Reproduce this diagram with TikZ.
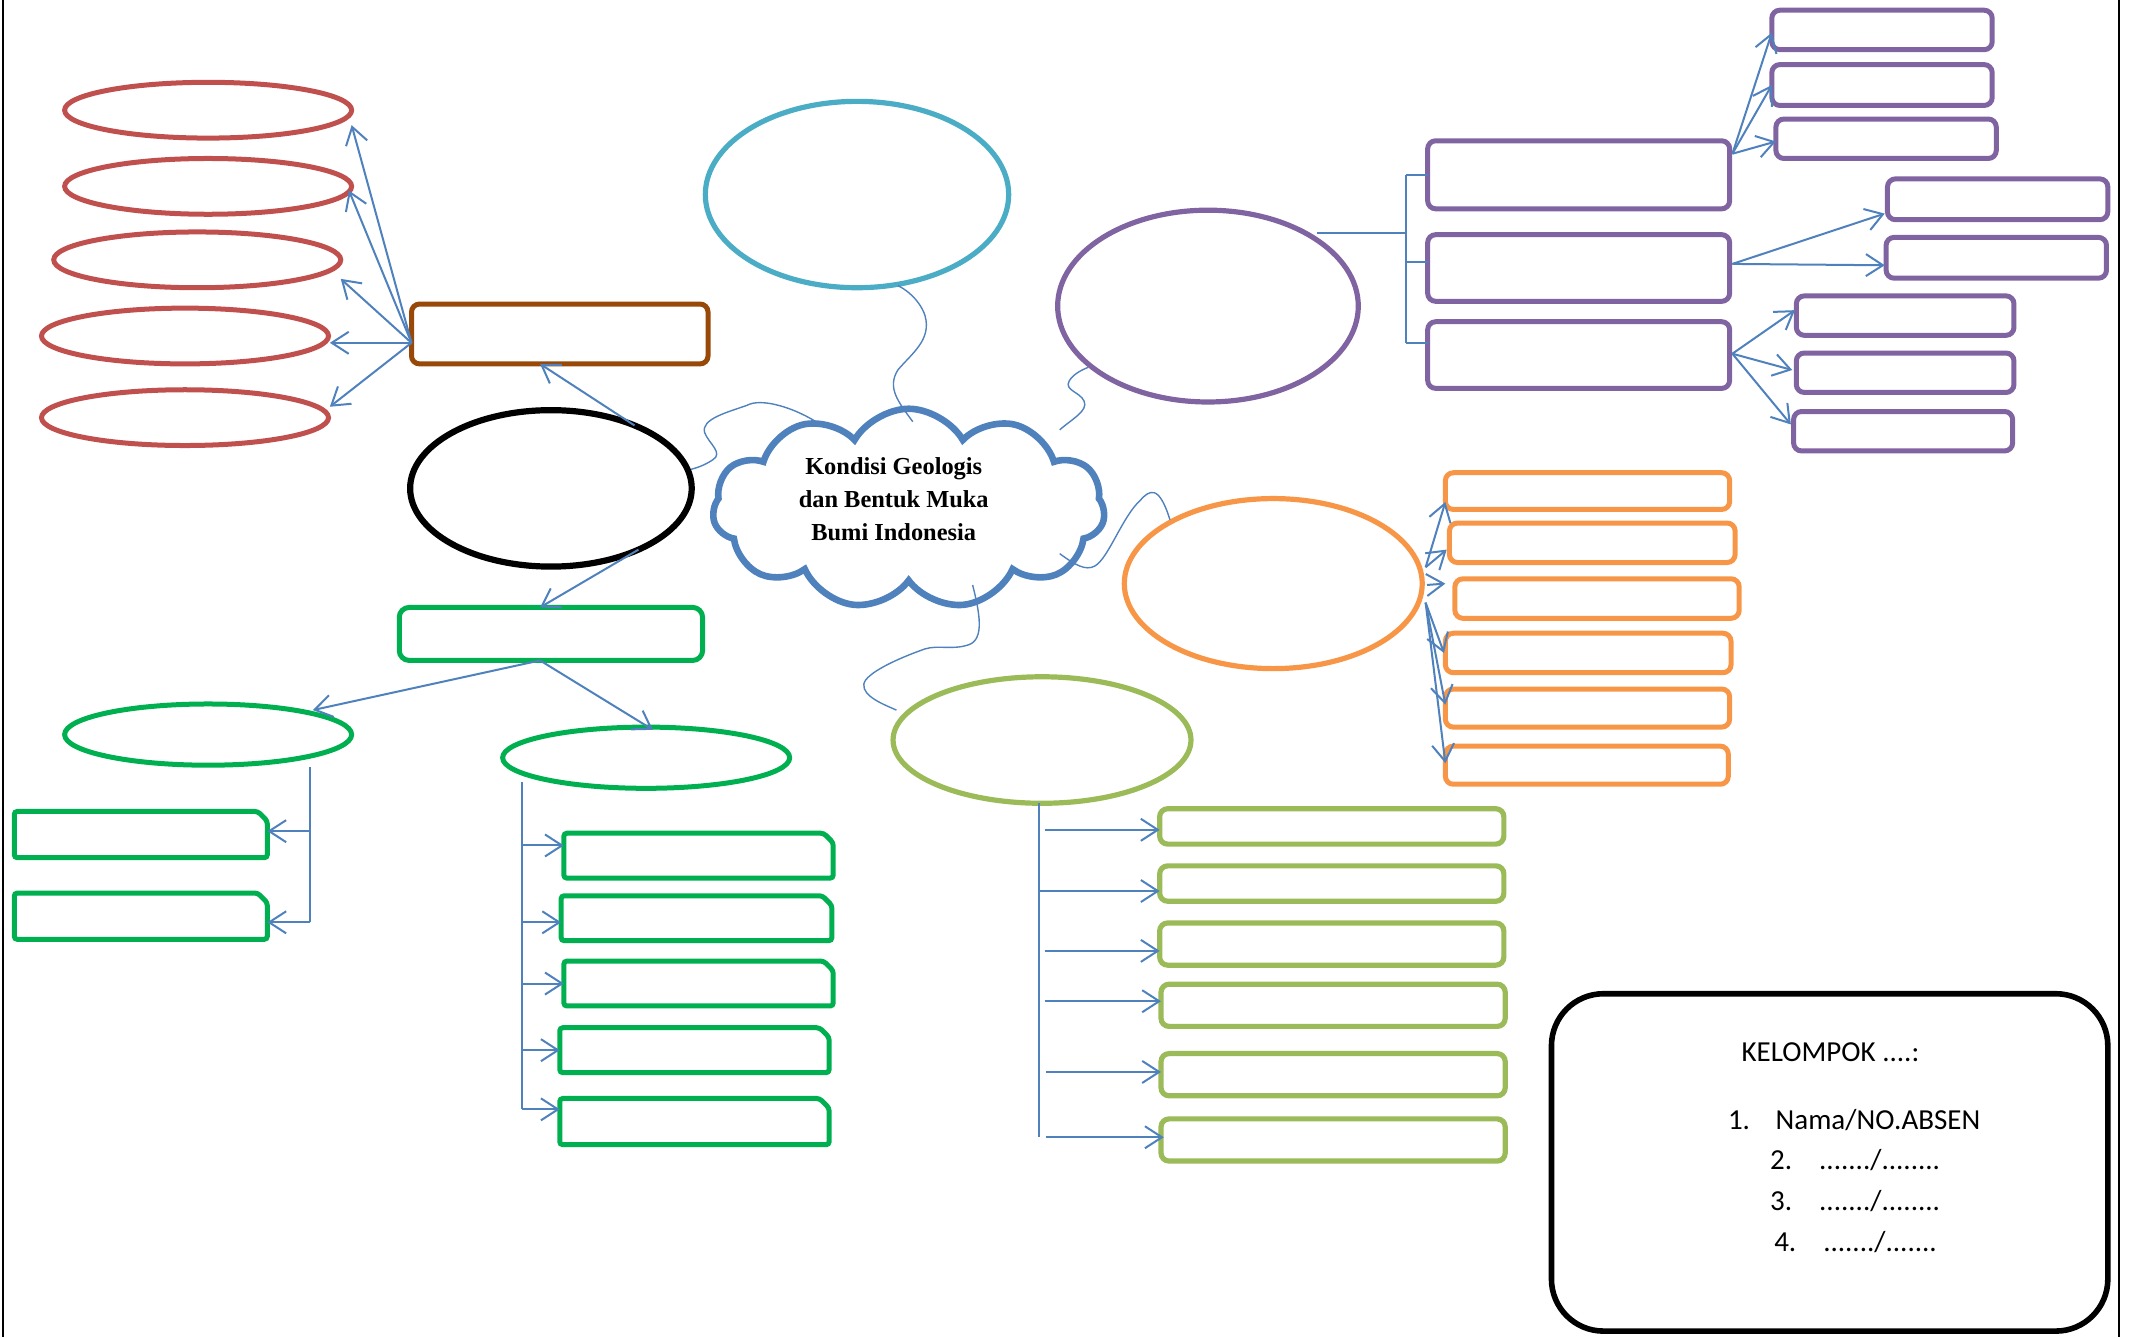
\documentclass[tikz,border=0pt]{standalone}
\usepackage{fontspec}
\setmainfont{Liberation Serif}
\newfontfamily\calib{Carlito}
\usetikzlibrary{shapes.geometric,shapes.symbols,arrows.meta,calc}
\definecolor{myred}{HTML}{C0504D}
\definecolor{mybrown}{HTML}{984807}
\definecolor{mygreen}{HTML}{00B050}
\definecolor{mylgreen}{HTML}{9BBB59}
\definecolor{mypurple}{HTML}{8064A2}
\definecolor{myorange}{HTML}{F79646}
\definecolor{mycyan}{HTML}{4BACC6}
\definecolor{myblue}{HTML}{4F81BD}
\newcommand\bx[6]{\pgfmathsetmacro\mybw{(#5-#3-3)*0.68}\pgfmathsetmacro\mybh{(#6-#4-3)*0.68}%
  \node[#2, minimum width=\mybw pt, minimum height=\mybh pt] (#1) at ({(#3+#5)/2},{(#4+#6)/2}) {};}
\newcommand\el[6]{\pgfmathsetmacro\mybw{(2*#5-3)*0.68}\pgfmathsetmacro\mybh{(2*#6-3)*0.68}%
  \node[#2, ellipse, minimum width=\mybw pt, minimum height=\mybh pt] (#1) at (#3,#4) {};}
% box with one snipped corner (north east)
\newcommand\snip[5]{\bx{#1}{shp}{#2}{#3}{#4}{#5}%
  \draw[snipline] (#1.south west) -- (#1.north west) -- ($(#1.north east)+(-7,0)$)
     -- ($(#1.north east)+(0,7)$) -- (#1.south east) -- cycle;}
\tikzset{
  shp/.style={inner sep=0pt, outer sep=0pt},
  redel/.style={shp, draw=myred, line width=2.5pt},
  blackel/.style={shp, draw=black, line width=3.1pt},
  greenel/.style={shp, draw=mygreen, line width=2.5pt},
  cyanel/.style={shp, draw=mycyan, line width=2.6pt},
  purpleel/.style={shp, draw=mypurple, line width=2.6pt},
  orangeel/.style={shp, draw=myorange, line width=2.6pt},
  lgreenel/.style={shp, draw=mylgreen, line width=2.6pt},
  brownbox/.style={shp, rectangle, draw=mybrown, line width=2.5pt, rounded corners=4pt},
  greenbox/.style={shp, rectangle, draw=mygreen, line width=2.5pt, rounded corners=5pt},
  snipline/.style={draw=mygreen, line width=2.5pt, rounded corners=1.5pt},
  purplebox/.style={shp, rectangle, draw=mypurple, line width=2.5pt, rounded corners=4pt},
  orangebox/.style={shp, rectangle, draw=myorange, line width=2.5pt, rounded corners=4pt},
  lgreenbox/.style={shp, rectangle, draw=mylgreen, line width=2.6pt, rounded corners=4pt},
  grpbox/.style={shp, rectangle, draw=black, line width=2.8pt, rounded corners=26pt},
  cloudst/.style={inner sep=0pt, outer sep=0pt, cloud, cloud puffs=11, cloud puff arc=120, cloud ignores aspect,
     draw=myblue, line width=3.3pt, minimum width=196pt, minimum height=100pt},
  cloudtext/.style={inner sep=0pt, align=center, font=\bfseries\fontsize{12.2pt}{16.3pt}\selectfont},
  grptext/.style={inner sep=0pt, anchor=base west, font=\calib\fontsize{14.5pt}{20pt}\selectfont},
  conn/.style={draw=myblue, line width=1pt},
  arr/.style={conn, -{Straight Barb[length=8.5pt,width=11pt]}},
  wavy/.style={draw=myblue, line width=0.7pt},
  frame/.style={draw=black, line width=1pt}
}
\begin{document}
\begin{tikzpicture}[x=0.68pt,y=-0.68pt]
\useasboundingbox (0,0) rectangle (1568,983);
\draw[frame] (2,0) -- (2,983);
\draw[frame] (1558,0) -- (1558,983);

% red ellipses and brown box
\el{r1}{redel}{153}{81}{107}{22}
\el{r2}{redel}{153}{137}{107}{22}
\el{r3}{redel}{145}{191}{107}{22}
\el{r4}{redel}{136}{247}{107}{22}
\el{r5}{redel}{136}{307}{107}{22}
\bx{br}{brownbox}{301}{222}{522}{269}
% black ellipse
\el{bk}{blackel}{405}{359}{105}{59}
% green branch
\bx{gb}{greenbox}{292}{445}{518}{487}
\el{ga}{greenel}{153}{540}{107}{24}
\el{gc}{greenel}{475}{557}{107}{24}
\snip{la}{9}{595}{198}{632}
\snip{lb}{9}{655}{198}{692}
\snip{m1}{413}{611}{614}{647}
\snip{m2}{411}{657}{613}{693}
\snip{m3}{413}{705}{614}{741}
\snip{m4}{410}{754}{611}{790}
\snip{m5}{410}{806}{611}{843}
% cyan
\el{cy}{cyanel}{630}{143}{113}{70}
% cloud
\node[cloudst] (cl) at (668,374) {};
\node[cloudtext] (ct) at (657,367) {Kondisi Geologis\\dan Bentuk Muka\\Bumi Indonesia};
% purple
\el{pe}{purpleel}{888}{225}{112}{72}
\bx{P1}{purplebox}{1048}{102}{1273}{155}
\bx{P2}{purplebox}{1048}{171}{1273}{223}
\bx{P3}{purplebox}{1048}{235}{1273}{287}
\bx{s1}{purplebox}{1301}{6}{1466}{38}
\bx{s2}{purplebox}{1301}{46}{1466}{79}
\bx{s3}{purplebox}{1304}{86}{1469}{118}
\bx{s4}{purplebox}{1386}{130}{1551}{163}
\bx{s5}{purplebox}{1385}{173}{1550}{206}
\bx{s6}{purplebox}{1319}{216}{1482}{248}
\bx{s7}{purplebox}{1319}{258}{1482}{290}
\bx{s8}{purplebox}{1317}{301}{1481}{333}
% orange
\el{oe}{orangeel}{936}{429}{111}{64}
\bx{o1}{orangebox}{1061}{346}{1273}{376}
\bx{o2}{orangebox}{1064}{383}{1277}{415}
\bx{o3}{orangebox}{1068}{424}{1280}{456}
\bx{o4}{orangebox}{1061}{464}{1274}{496}
\bx{o5}{orangebox}{1061}{505}{1273}{536}
\bx{o6}{orangebox}{1061}{547}{1272}{578}
% light green
\el{le}{lgreenel}{766}{544}{111}{48}
\bx{g1}{lgreenbox}{851}{593}{1107}{622}
\bx{g2}{lgreenbox}{851}{635}{1107}{664}
\bx{g3}{lgreenbox}{851}{677}{1107}{711}
\bx{g4}{lgreenbox}{852}{722}{1108}{756}
\bx{g5}{lgreenbox}{852}{773}{1108}{807}
\bx{g6}{lgreenbox}{852}{821}{1108}{855}
% group box
\bx{grp}{grpbox}{1139}{729}{1551}{980}
\node[grptext] (k0) at (1280,780) {KELOMPOK ....:};
\node[grptext] (k1n) at (1270,830) {1.};
\node[grptext] (k1t) at (1305,830) {Nama/NO.ABSEN};
\node[grptext] (k2n) at (1301,860) {2.};
\node[grptext] (k2t) at (1337,860) {......./........};
\node[grptext] (k3n) at (1301,890) {3.};
\node[grptext] (k3t) at (1337,890) {......./........};
\node[grptext] (k4n) at (1304,920) {4.};
\node[grptext] (k4t) at (1340,920) {......./.......};

% ---- connectors: red
\coordinate (brs) at ($(br.west)+(0,6.5)$);
\draw[arr] (brs) -- ($(r1.east)+(0,11)$);
\draw[arr] (brs) -- ($(r2.east)+(-2,3)$);
\draw[arr] (brs) -- ($(r3.east)+(0,14)$);
\draw[arr] (brs) -- ($(r4.east)+(1,5)$);
\draw[arr] (brs) -- ($(r5.east)+(1,-8)$);
\draw[arr] (bk.37) -- ($(br.south)+(-14.5,0)$);
% green
\draw[arr] (bk.-35) -- ($(gb.north)+(-8,0)$);
\coordinate (gbs) at ($(gb.south)+(-8,0)$);
\draw[arr] (gbs) -- ($(ga.center)+(77,-18)$);
\draw[arr] (gbs) -- ($(gc.north)+(5,2)$);
\coordinate (gav) at ($(ga.center)+(75,24)$);
\coordinate (lat) at ($(la.east)+(0,-2.5)$);
\coordinate (lbt) at ($(lb.east)+(0,4.5)$);
\draw[conn] (gav) -- (gav |- lbt);
\draw[arr] (gav |- lat) -- (lat);
\draw[arr] (gav |- lbt) -- (lbt);
\coordinate (gcv) at ($(gc.center)+(-91,18)$);
\coordinate (m1t) at ($(m1.west)+(0,-7.5)$);
\coordinate (m2t) at ($(m2.west)+(0,3)$);
\coordinate (m3t) at ($(m3.west)+(0,0)$);
\coordinate (m4t) at ($(m4.west)+(0,0)$);
\coordinate (m5t) at ($(m5.west)+(0,-9)$);
\draw[conn] (gcv) -- (gcv |- m5t);
\foreach \m in {m1t,m2t,m3t,m4t,m5t}{\draw[arr] (gcv |- \m) -- (\m);}
% purple
\coordinate (pes) at ($(pe.center)+(80,-54)$);
\coordinate (pbx) at ($(P1.west)+(-16,0)$);
\coordinate (P2t) at ($(P2.west)+(0,-4.5)$);
\coordinate (P3t) at ($(P3.west)+(0,-9)$);
\draw[conn] (pes) -- (pes -| pbx);
\draw[conn] (pbx) -- (pbx |- P3t);
\draw[conn] (pbx) -- (P1.west);
\draw[conn] (pbx |- P2t) -- (P2t);
\draw[conn] (pbx |- P3t) -- (P3t);
\coordinate (p1s) at ($(P1.east)+(2,-15.5)$);
\draw[arr] (p1s) -- ($(s1.west)+(0,2)$);
\draw[arr] (p1s) -- ($(s2.west)+(0,0)$);
\draw[arr] (p1s) -- ($(s3.west)+(0,2)$);
\coordinate (p2s) at ($(P2.east)+(2,-3)$);
\draw[arr] (p2s) -- ($(s4.west)+(-2,10.5)$);
\draw[arr] (p2s) -- ($(s5.west)+(-1,5.5)$);
\coordinate (p3s) at ($(P3.east)+(2,-1)$);
\draw[arr] (p3s) -- ($(s6.west)+(-1,-4)$);
\draw[arr] (p3s) -- ($(s7.west)+(-3,-2)$);
\draw[arr] (p3s) -- ($(s8.west)+(-2,-5)$);
% orange
\coordinate (oa) at ($(oe.center)+(112,-12)$);
\coordinate (ob) at ($(oe.center)+(113,1)$);
\coordinate (oc) at ($(oe.center)+(112,14)$);
\draw[arr] (oa) -- ($(o1.west)+(0,8)$);
\draw[arr] (oa) -- ($(o2.west)+(-2,5)$);
\draw[arr] (ob) -- ($(o3.west)+(-7,-11)$);
\draw[arr] (oc) -- ($(o4.west)+(-1,0)$);
\draw[arr] (oc) -- ($(o5.west)+(0,-2.5)$);
\draw[arr] (oc) -- ($(o6.west)+(0,-1.5)$);
% light green
\coordinate (lev) at ($(le.south)+(-2,0)$);
\coordinate (g1t) at ($(g1.west)+(0,2.5)$);
\coordinate (g2t) at ($(g2.west)+(0,5.5)$);
\coordinate (g3t) at ($(g3.west)+(0,5)$);
\coordinate (g4t) at ($(g4.west)+(0,-3)$);
\coordinate (g5t) at ($(g5.west)+(0,-2)$);
\coordinate (g6t) at ($(g6.west)+(2,-2)$);
\draw[conn] (lev) -- (lev |- g6t);
\draw[arr] ($(lev |- g1t)+(4,0)$) -- (g1t);
\draw[arr] (lev |- g2t) -- (g2t);
\draw[arr] ($(lev |- g3t)+(4,0)$) -- (g3t);
\draw[arr] ($(lev |- g4t)+(4,0)$) -- (g4t);
\draw[arr] ($(lev |- g5t)+(5,0)$) -- (g5t);
\draw[arr] ($(lev |- g6t)+(5,0)$) -- (g6t);
% cloud wavy links
\draw[wavy] ($(cl.center)+(-65,-62)$) .. controls (585,300) and (560,292) .. (549,298)
   .. controls (535,303) and (515,308) .. (518,318)
   .. controls (521,326) and (532,333) .. (524,338)
   .. controls (518,342) and (512,344) .. ($(bk.center)+(103,-14)$);
\draw[wavy] ($(cl.center)+(3,-64)$) .. controls (660,295) and (652,285) .. (660,272)
   .. controls (670,260) and (685,250) .. (680,232)
   .. controls (676,220) and (665,212) .. ($(cy.center)+(30,67)$);
\draw[wavy] ($(cl.center)+(111,-58)$) .. controls (788,308) and (800,302) .. (797,295)
   .. controls (794,288) and (782,287) .. (786,280)
   .. controls (789,275) and (795,272) .. ($(pe.center)+(-88,45)$);
\draw[wavy] ($(cl.center)+(111,33)$) .. controls (790,415) and (798,420) .. (805,416)
   .. controls (815,410) and (825,380) .. (838,368)
   .. controls (845,360) and (852,356) .. ($(oe.center)+(-76,-47)$);
\draw[wavy] ($(cl.center)+(47,56)$) .. controls (720,450) and (724,470) .. (712,474)
   .. controls (700,478) and (690,474) .. (680,477)
   .. controls (660,484) and (636,495) .. (635,503)
   .. controls (634,512) and (650,518) .. ($(le.center)+(-107,-22)$);
\end{tikzpicture}
\end{document}
